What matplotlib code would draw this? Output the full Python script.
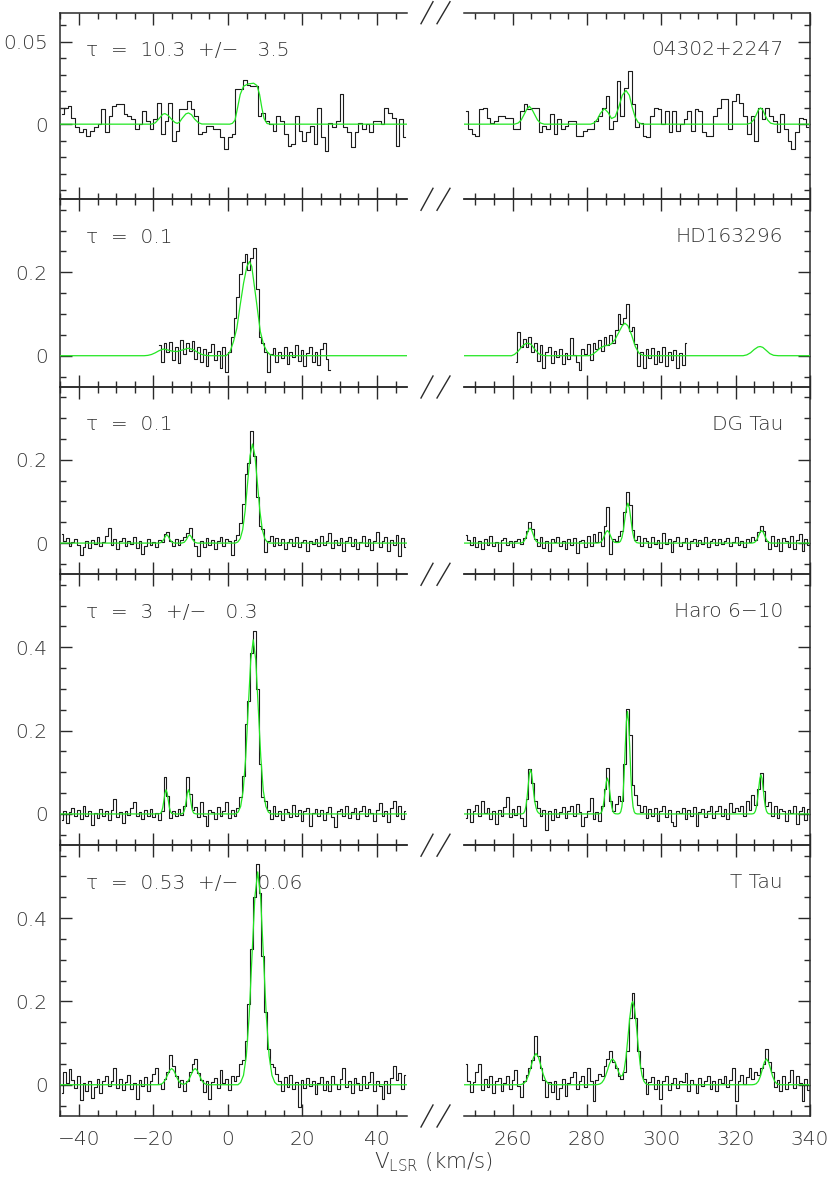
import numpy as np
import matplotlib
matplotlib.use("Agg")
import matplotlib.pyplot as plt
from matplotlib.lines import Line2D
from matplotlib.ticker import MultipleLocator, FuncFormatter

plt.rcParams["font.family"] = "DejaVu Sans"
plt.rcParams["font.weight"] = 200
plt.rcParams["font.size"] = 14.5
plt.rcParams["mathtext.fontset"] = "custom"
plt.rcParams["mathtext.rm"] = "DejaVu Sans:light"
plt.rcParams["mathtext.it"] = "DejaVu Sans:light"

## ------------------------------------------------------------------ ##
## spectra: first channel velocity (km/s), channel width, T (mK)
## ------------------------------------------------------------------ ##
iras04302_v0 = (-44.5, 247.5)
iras04302_dv = 1.0
iras04302_left_mK = [
    6, 10, 11, 4, -2, -5, -3, -7, -4, -2,
    0, 9, -5, 5, 11, 12, 12, 6, 5, 3,
    -3, 0, 8, 2, -3, 3, 13, -6, 2, 13,
    -10, -4, 9, 9, 14, 9, 5, -6, -5, -1,
    -1, -3, -3, -8, -15,
    -8, -6, 21, 21, 27, 24, 23, 23, 5, 7,
    2, 0, -4, 5, 2, -6, -13, -12, 5, -4,
    -10, -5, -1, -12, 10, -8, -16, 1, -2, 2,
    18, -2, -5, -14, -5, 1, -3, 0, -5, 2,
    2, 0, 10, 7, 4, -13, 3, -8]
iras04302_right_mK = [
    8, -3, -6, -7, 9, 10, 4, 1, 2, 5,
    5, 4, 4, -3, -3, 8, 12, 9, 10, 10,
    -5, -1, -3, 6, -6, 3, -3, -1, 2, 2,
    -7, -7, -4, -3, -3, 2, 5, 10, 17, -3,
    2, 26, 5, 22, 32, 12, -2, 1, -7, -8,
    5, 10, 9, 0, 8, -5, 8, -4, 0, 3,
    8, -4, 9, 8, -5, -7, -7, 5, 10, 15,
    15, -3, 14, 18, 13, 5, -6, 5, -10, 10,
    3, 10, 5, 2, -5, 6, -3, -10, -15, -5,
    4, 3, -2]

hd163296_v0 = (-18.375, 260.875)
hd163296_dv = 0.75
hd163296_left_mK = [
    25, -14, 30, 10, 34, -10, 20, -18, 38, 5,
    30, 12, 35, -8, 22, -16, 15, -24, 8, 28,
    -10, 12, -30, 20, -38, 10, 45, 90, 140, 195,
    225, 245, 205, 235, 258, 160, 45, 30, 10, -40,
    5, 18, -14, 10, -6, 22, -20, 8, -2, 25,
    -12, 14, -24, 6, 20, -16, 10, -22, 16, 30,
    -8, -35]
hd163296_right_mK = [
    -15, 58, 20, 40, 22, 45, 10, 30, -12, 25,
    -30, 8, 20, -18, 12, -4, 15, -20, 6, -8,
    42, 2, -14, -35, 16, 5, 28, -10, 30, 15,
    38, 12, 45, 25, 50, 30, 62, 99, 75, 90,
    123, 60, 70, 28, -25, 10, -30, 15, -6, 18,
    -20, 12, -14, 20, -24, 8, -10, 14, -30, 6,
    -22, 30]

fine_v0 = (-44.625, 247.375)
fine_dv = 0.75
dgtau_left_mK = [
    22, 5, 12, -8, 3, 10, -5, -28, -10, 6,
    -12, 8, -3, 14, -6, 2, 18, 36, -4, 10,
    -15, 5, 12, -8, 4, -2, 15, -12, 6, -26,
    -8, 9, -4, 3, -10, 8, 2, 22, 26, 6,
    -8, 10, -4, 8, 14, 24, 36, 10, -6, -30,
    4, -10, 12, -5, 8, -14, 6, 15, -6, 10,
    5, -28, 8, 20, 48, 95, 165, 192, 270, 210,
    110, 40, 35, -22, 5, 18, -8, 12, -4, 9,
    -15, 3, 11, -6, 14, -10, 2, 8, -18, 6,
    -3, 10, -7, 16, -5, 4, 24, -12, 7, -4,
    12, -20, 5, 15, -8, 10, -14, 3, 18, -6,
    9, -16, 6, 26, -10, 4, 14, -20, 8, -5,
    20, -30, 12, -10]
dgtau_right_mK = [
    20, 8, -5, 14, -10, 6, -14, 10, -4, 16,
    -6, 3, -18, 8, 12, -5, 6, -10, 4, 10,
    -3, 12, 30, 50, 35, 10, -8, 15, -12, 4,
    -20, 9, 2, 14, -8, 6, -15, 10, -4, 12,
    -24, 5, 8, -10, 16, -6, 22, 2, 26, -8,
    40, 86, -26, 10, 4, 18, 30, 75, 123, 92,
    32, 8, 18, -6, 12, 4, -10, 15, -3, 8,
    -12, 24, -2, 10, -22, 6, 14, -8, 3, 12,
    -14, 5, 10, -6, 8, -2, 15, -10, 4, 9,
    -5, 11, -3, 6, 12, -8, 2, 14, -4, 6,
    -10, 9, 3, 14, 8, 26, 42, 28, 6, -14,
    18, -6, 10, -20, 12, 4, -10, 16, -14, 8,
    22, -18, 10, -4]

haro610_left_mK = [
    -15, 8, -22, 5, 14, -6, 10, -12, 18, -4,
    6, -26, 3, -10, 12, -5, 8, -14, 10, 36,
    -8, 4, -22, 6, -3, 14, 28, -6, 5, -12,
    9, -4, 12, -8, 3, -14, 6, 88, 42, -10,
    8, -6, 12, -2, 20, 88, 48, 10, 16, -8,
    28, -4, -30, 10, 4, -12, 16, -6, 8, 28,
    -10, 10, -5, 15, 40, 90, 215, 270, 385, 440,
    300, 120, 40, 30, 10, -12, 18, -6, 8, -14,
    12, 4, -8, 22, -4, 10, -18, 6, 14, -28,
    2, 12, -6, 9, -14, 5, 16, -8, -32, 6,
    12, -4, 18, -10, 4, 14, -12, 8, 20, -6,
    12, 2, -18, 10, 26, -4, 8, -20, 14, 30,
    -6, 18, -12, 6]
haro610_right_mK = [
    -10, 12, -20, 8, 22, -6, 30, 2, 14, -12,
    6, -24, 10, -4, 16, 40, -8, 12, -2, 20,
    -10, -28, 35, 107, 75, 30, 15, -4, 10, -38,
    6, -14, 12, -8, 4, 16, -10, 8, 18, -6,
    24, 5, -30, -8, 6, 38, -12, 4, -16, 20,
    60, 110, 30, 8, 25, 42, 30, 120, 251, 190,
    70, 45, 22, 5, 18, -10, 12, -4, 14, -16,
    6, 20, -8, 10, -20, -28, 8, 2, 14, -12,
    10, -6, 16, -30, 4, 12, -8, 8, 20, -10,
    6, 18, -4, 12, -12, 26, 4, 14, 8, 20,
    -6, 30, 10, 45, 22, 60, 98, 55, 20, 28,
    -4, 18, -10, 12, 6, -16, 10, 2, 20, -24,
    8, 16, -14, 12]

ttau_left_mK = [
    -20, 30, 5, 38, 12, -8, 20, -36, 4, -15,
    10, -32, -6, 14, -20, 8, 22, -4, 10, 40,
    -8, 15, -12, 6, 24, -10, 4, -34, 12, -4,
    18, -14, 8, 26, 40, 2, -10, 14, 30, 71,
    45, 20, -6, 12, -15, 8, 30, 50, 63, 28,
    12, -18, 10, -34, 6, 16, -8, 35, 4, 14,
    -12, 20, 8, 20, 51, 59, 105, 195, 325, 450,
    530, 460, 310, 175, 85, 50, 42, 27, 10, -14,
    18, -6, 24, -10, 6, -53, 12, -8, 16, -4,
    10, -22, 4, 18, -12, 8, -16, 22, 2, -10,
    14, 40, -6, 10, -20, 16, 4, -12, 20, -8,
    6, 30, -14, 10, -2, -35, 8, -20, 16, 45,
    12, 28, -10, 24]
ttau_right_mK = [
    50, 10, -18, 6, 30, 50, -12, 14, -6, 22,
    -20, 8, 16, -14, 4, 20, -10, 12, 35, -4,
    -30, 10, 24, 40, 60, 117, 70, 40, 12, -30,
    6, -18, 10, -34, -8, 14, -26, 4, 18, 30,
    -10, 8, 22, -6, 40, 10, -38, 12, 26, 20,
    45, 62, 82, 55, 40, 20, 15, 30, 80, 160,
    221, 160, 80, 40, 15, -22, 6, 18, -10, 12,
    -34, 8, 20, -12, 4, 16, -8, 10, 6, 28,
    -14, 12, 2, -20, 16, -4, 10, 20, -10, 8,
    -16, 14, 4, 22, -6, 12, 40, -40, 10, 24,
    2, 18, 40, 14, 30, 24, 40, 50, 87, 55,
    30, -6, 12, -14, 20, -10, 6, 35, -8, 22,
    4, -40, 14, -12]

## ------------------------------------------------------------------ ##
## hyperfine fits (green), (velocity km/s, T mK)
## ------------------------------------------------------------------ ##
iras04302_fit_left = [
    (-45, 0), (-20.5, 0), (-19.5, 0.8), (-18.5, 3.3), (-17.5, 6.0), (-16.9, 6.4),
    (-16.0, 5.2), (-15.0, 2.6), (-14.2, 1.0), (-13.6, 0.5), (-13.0, 1.2),
    (-12.3, 3.5), (-11.3, 6.2), (-10.6, 6.8), (-9.8, 5.8), (-8.9, 3.0),
    (-8.0, 1.0), (-7.0, 0.1), (0.5, 0), (1.2, 0.5), (1.9, 2.4), (2.6, 10),
    (3.3, 18), (4.2, 23), (5.5, 24.4), (6.9, 24.8), (7.8, 23.4), (8.5, 18),
    (9.1, 10), (9.7, 3.4), (10.5, 0.4), (11.5, 0), (48, 0)]
iras04302_fit_right = [
    (247, 0), (260.5, 0), (261.5, 0.7), (262.3, 2.5), (263.0, 5.5), (263.8, 9.0),
    (264.5, 10.8), (265.2, 9.0), (266.0, 5.5), (266.7, 2.5), (267.5, 0.7),
    (268.5, 0), (281.0, 0), (282.0, 0.8), (282.8, 3.0), (283.6, 6.5),
    (284.7, 9.4), (285.7, 7.0), (286.6, 3.4), (287.6, 4.5), (288.5, 10),
    (289.5, 17.5), (290.5, 20.4), (291.4, 17.5), (292.2, 10), (293.0, 4),
    (293.8, 1), (294.8, 0), (323.0, 0), (324.0, 0.6), (324.8, 2.5),
    (325.5, 5.5), (326.1, 8.6), (326.7, 9.8), (327.3, 8.6), (327.9, 5.5),
    (328.6, 2.5), (329.4, 0.6), (330.5, 0), (340, 0)]

hd163296_fit_left = [
    (-45, 0), (-22.5, 0), (-21.5, 0.8), (-20.5, 3), (-19.5, 7), (-18.5, 12),
    (-17.3, 16), (-16.2, 14), (-15.0, 11), (-13.7, 10), (-12.3, 13.5),
    (-10.6, 18), (-9.2, 14), (-8.0, 7.5), (-7.0, 3), (-6.0, 0.8), (-5.0, 0),
    (-0.5, 0), (0.5, 8), (1.5, 34), (2.4, 66), (3.3, 122), (4.2, 174),
    (5.1, 214), (5.8, 226), (6.4, 214), (7.3, 154), (8.0, 106), (8.7, 58),
    (9.6, 26), (10.5, 10), (11.4, 2), (12.5, 0), (48, 0)]
hd163296_fit_right = [
    (247, 0), (259.7, 0), (260.5, 3), (261.5, 11), (262.5, 22), (263.5, 29),
    (264.2, 30), (265.0, 27), (266.0, 15), (267.0, 5), (268.0, 1), (269.0, 0),
    (280.5, 0), (281.5, 3), (282.5, 10), (283.5, 18), (284.5, 23), (285.5, 25),
    (286.5, 28), (287.5, 38), (288.5, 55), (289.5, 72), (290.2, 78),
    (291.0, 72), (292.0, 50), (293.0, 22), (294.0, 6), (295.0, 1), (296.0, 0),
    (322.0, 0), (323.0, 2), (324.0, 7), (325.0, 15), (326.0, 21), (326.6, 22),
    (327.3, 20), (328.2, 13), (329.2, 5), (330.2, 1), (331.5, 0), (340, 0)]

dgtau_fit_left = [
    (-45, 0), (-18.5, 0), (-17.8, 2), (-17.2, 9), (-16.8, 16), (-16.4, 20),
    (-16.0, 16), (-15.6, 9), (-15.0, 2), (-14.3, 0), (-12.4, 0), (-11.7, 2),
    (-11.1, 9), (-10.7, 16), (-10.3, 20), (-9.9, 16), (-9.5, 9), (-8.9, 2),
    (-8.2, 0), (2.0, 0), (2.64, 2.6), (3.3, 10.5), (3.96, 32), (4.62, 77),
    (5.28, 144), (5.94, 210), (6.6, 238), (7.26, 210), (7.92, 144),
    (8.58, 77), (9.24, 32), (9.9, 10.5), (10.56, 2.6), (11.2, 0), (48, 0)]
dgtau_fit_right = [
    (247, 0), (262.0, 0), (262.3, 0.4), (262.7, 1.6), (263.1, 4.9), (263.5, 11.7),
    (263.9, 21.9), (264.3, 31.8), (264.7, 36), (265.1, 31.8), (265.5, 21.9),
    (265.9, 11.7), (266.3, 4.9), (266.7, 1.6), (267.1, 0.4), (267.5, 0),
    (282.7, 0), (283.1, 0.3), (283.5, 1.3), (283.9, 4), (284.3, 9.8),
    (284.7, 18.2), (285.1, 26.5), (285.5, 30), (285.9, 26.5), (286.3, 18.2),
    (286.7, 9.8), (287.1, 4), (287.5, 1.6), (288.0, 1.2), (288.6, 1.5),
    (289.0, 4.2), (289.4, 13), (289.8, 31), (290.2, 58), (290.6, 85),
    (291.0, 96), (291.4, 85), (291.8, 58), (292.2, 31), (292.6, 13),
    (293.0, 4.2), (293.4, 1), (294.0, 0), (324.2, 0), (324.6, 0.3),
    (325.0, 1.3), (325.4, 4), (325.8, 9.8), (326.2, 18.2), (326.6, 26.5),
    (327.0, 30), (327.4, 26.5), (327.8, 18.2), (328.2, 9.8), (328.6, 4),
    (329.0, 1.3), (329.4, 0.3), (329.8, 0), (340, 0)]

haro610_fit_left = [
    (-45, 0), (-18.6, 0), (-18.1, 1.4), (-17.8, 5.4), (-17.5, 15), (-17.2, 32),
    (-16.9, 50), (-16.6, 58), (-16.3, 50), (-16.0, 32), (-15.7, 15),
    (-15.4, 5.4), (-15.1, 1.4), (-14.5, 0), (-12.6, 0), (-12.1, 1.4),
    (-11.8, 5.4), (-11.5, 15), (-11.2, 32), (-10.9, 50), (-10.6, 58),
    (-10.3, 50), (-10.0, 32), (-9.7, 15), (-9.4, 5.4), (-9.1, 1.4), (-8.5, 0),
    (2.0, 0), (2.75, 4.6), (3.43, 18.4), (4.1, 56), (4.78, 136), (5.45, 254),
    (6.13, 369), (6.8, 418), (7.48, 369), (8.15, 254), (8.83, 136), (9.5, 56),
    (10.18, 18.4), (10.85, 4.6), (11.6, 0), (48, 0)]
haro610_fit_right = [
    (247, 0), (262.3, 0), (262.7, 0.6), (263.0, 2.3), (263.3, 7.4), (263.6, 19.3),
    (263.9, 40.6), (264.2, 69.2), (264.5, 95.3), (264.8, 106), (265.1, 98),
    (265.4, 75), (265.7, 48), (266.0, 28), (266.3, 15), (266.6, 7),
    (266.9, 3), (267.3, 0.5), (267.8, 0), (283.0, 0), (283.4, 0.5),
    (283.7, 1.9), (284.0, 6), (284.3, 15.7), (284.6, 33), (284.9, 56),
    (285.2, 77), (285.5, 86), (285.8, 77), (286.1, 56), (286.4, 33),
    (286.7, 15.7), (287.0, 6), (287.3, 1.9), (287.6, 0.5), (288.2, 0),
    (288.5, 0.3), (288.8, 1.3), (289.1, 5.4), (289.4, 17.2), (289.7, 44.8),
    (290.0, 94), (290.3, 161), (290.6, 221), (290.9, 246), (291.2, 221),
    (291.5, 161), (291.8, 94), (292.1, 44.8), (292.4, 17.2), (292.7, 5.4),
    (293.0, 1.3), (293.5, 0), (324.3, 0), (324.7, 0.5), (325.0, 2.1),
    (325.3, 6.6), (325.6, 17.1), (325.9, 36), (326.2, 61.4), (326.5, 84.5),
    (326.8, 94), (327.1, 84.5), (327.4, 61.4), (327.7, 36), (328.0, 17.1),
    (328.3, 6.6), (328.6, 2.1), (328.9, 0.5), (329.4, 0), (340, 0)]

ttau_fit_left = [
    (-45, 0), (-19.0, 0), (-18.4, 0.4), (-17.85, 1.7), (-17.3, 5.3), (-16.75, 12.7),
    (-16.2, 23.7), (-15.65, 34.4), (-15.1, 39), (-14.55, 34.4), (-14.0, 23.7),
    (-13.45, 12.7), (-12.9, 5.3), (-12.35, 1.9), (-11.95, 1.3), (-11.55, 1.9),
    (-11.0, 5.3), (-10.45, 12.7), (-9.9, 23.7), (-9.35, 34.4), (-8.8, 39),
    (-8.25, 34.4), (-7.7, 23.7), (-7.15, 12.7), (-6.6, 5.3), (-6.05, 1.7),
    (-5.5, 0.4), (-4.9, 0), (2.7, 0), (3.41, 5.6), (4.18, 22.5), (4.94, 69),
    (5.71, 166), (6.47, 310), (7.24, 451), (8.0, 511), (8.77, 451),
    (9.53, 310), (10.3, 166), (11.06, 69), (11.83, 22.5), (12.59, 5.6),
    (13.3, 0), (48, 0)]
ttau_fit_right = [
    (247, 0), (261.7, 0), (262.4, 0.8), (263.05, 3.3), (263.7, 10.1), (264.35, 24.4),
    (265.0, 45.5), (265.65, 66.2), (266.3, 75), (266.95, 66.2), (267.6, 45.5),
    (268.25, 24.4), (268.9, 10.1), (269.55, 3.3), (270.2, 0.8), (270.9, 0),
    (282.4, 0), (283.0, 0.7), (283.5, 2.0), (284.0, 5.1), (284.5, 11.3),
    (285.0, 21.3), (285.5, 34.7), (286.0, 48.8), (286.5, 59.2), (286.9, 62),
    (287.5, 55.8), (288.0, 43.6), (288.5, 30.4), (289.0, 21.4), (289.5, 21.6),
    (290.0, 35.5), (290.5, 66.3), (291.0, 111.6), (291.5, 160), (292.0, 194),
    (292.3, 200), (292.8, 183), (293.3, 141), (293.8, 92), (294.3, 50),
    (294.8, 23), (295.3, 8.8), (295.8, 2.8), (296.3, 0.8), (296.8, 0),
    (324.4, 0), (325.0, 0.7), (325.55, 2.7), (326.1, 8.4), (326.65, 20.2),
    (327.2, 37.6), (327.75, 54.7), (328.3, 62), (328.85, 54.7), (329.4, 37.6),
    (329.95, 20.2), (330.5, 8.4), (331.05, 2.7), (331.6, 0.7), (332.2, 0),
    (340, 0)]

names = ["04302+2247", "HD163296", "DG Tau", "Haro 6\u221210", "T Tau"]
tau_labels = [
    "\u03c4  =  10.3  +/\u2212   3.5",
    "\u03c4  =  0.1",
    "\u03c4  =  0.1",
    "\u03c4  =  3  +/\u2212   0.3",
    "\u03c4  =  0.53  +/\u2212   0.06",
]

panels = [
    dict(left=(iras04302_v0[0], iras04302_dv, iras04302_left_mK),
         right=(iras04302_v0[1], iras04302_dv, iras04302_right_mK),
         fit_left=iras04302_fit_left, fit_right=iras04302_fit_right,
         ylim=(-0.0455, 0.0675), major=0.05, minor=0.01),
    dict(left=(hd163296_v0[0], hd163296_dv, hd163296_left_mK),
         right=(hd163296_v0[1], hd163296_dv, hd163296_right_mK),
         fit_left=hd163296_fit_left, fit_right=hd163296_fit_right,
         ylim=(-0.075, 0.375), major=0.2, minor=0.05),
    dict(left=(fine_v0[0], fine_dv, dgtau_left_mK),
         right=(fine_v0[1], fine_dv, dgtau_right_mK),
         fit_left=dgtau_fit_left, fit_right=dgtau_fit_right,
         ylim=(-0.075, 0.375), major=0.2, minor=0.05),
    dict(left=(fine_v0[0], fine_dv, haro610_left_mK),
         right=(fine_v0[1], fine_dv, haro610_right_mK),
         fit_left=haro610_fit_left, fit_right=haro610_fit_right,
         ylim=(-0.075, 0.575), major=0.2, minor=0.05),
    dict(left=(fine_v0[0], fine_dv, ttau_left_mK),
         right=(fine_v0[1], fine_dv, ttau_right_mK),
         fit_left=ttau_fit_left, fit_right=ttau_fit_right,
         ylim=(-0.075, 0.575), major=0.2, minor=0.05),
]

## ------------------------------------------------------------------ ##
## layout (pixels of the 830 x 1180 figure)
## ------------------------------------------------------------------ ##
W, H = 830.0, 1180.0
edges = [12.7, 199.3, 387.0, 574.3, 845.2, 1116.0]
x_left = (60.3, 406.7)
x_right = (464.3, 810.0)
vlim = {"left": (-45, 48), "right": (247, 340)}

ink = "#2a2a2a"
txt = "#333333"
green = "#22e622"
fs = 14.5


def yfmt(y, pos):
    return "%g" % round(y, 6)


def dress(ax, side, ylim, major, minor, last):
    ax.set_xlim(*vlim[side])
    ax.set_ylim(*ylim)
    ax.xaxis.set_major_locator(MultipleLocator(20))
    ax.xaxis.set_minor_locator(MultipleLocator(5))
    ax.yaxis.set_major_locator(MultipleLocator(major))
    ax.yaxis.set_minor_locator(MultipleLocator(minor))
    ax.yaxis.set_major_formatter(FuncFormatter(yfmt))
    ax.tick_params(which="both", direction="in", top=True, bottom=True,
                   color=ink, width=1.0, labelcolor=txt, labelsize=fs)
    ax.tick_params(which="major", length=8.5)
    ax.tick_params(which="minor", length=4.5)
    ax.tick_params(axis="x", pad=10, labelbottom=last)
    ax.tick_params(axis="y", pad=9)
    for s in ax.spines.values():
        s.set_color(ink)
        s.set_linewidth(1.1)
    if side == "left":
        ax.spines["right"].set_visible(False)
        ax.tick_params(axis="y", which="both", left=True, right=False)
    else:
        ax.spines["left"].set_visible(False)
        ax.tick_params(axis="y", which="both", left=False, right=True,
                       labelleft=False)
    ax.patch.set_visible(False)


fig = plt.figure(figsize=(W / 100, H / 100), dpi=100)

for i, p in enumerate(panels):
    top, bot = edges[i], edges[i + 1]
    hpx = bot - top
    for side, (x0, x1) in (("left", x_left), ("right", x_right)):
        ax = fig.add_axes([x0 / W, 1 - bot / H, (x1 - x0) / W, hpx / H])
        v0, dv, vals = p[side]
        t = np.array(vals, dtype=float) / 1000.0
        v = v0 + dv * np.arange(len(t))
        ax.step(v, t, where="mid", color="#1c1c1c", lw=0.8, zorder=3)
        fv, ft = zip(*p["fit_" + side])
        ax.plot(fv, np.array(ft) / 1000.0, color=green, lw=0.9, zorder=4)
        dress(ax, side, p["ylim"], p["major"], p["minor"], i == len(panels) - 1)
        if side == "left":
            ax.text((86 - x0) / (x1 - x0), 1 - 38 / hpx, tau_labels[i],
                    transform=ax.transAxes, ha="left", va="center",
                    color=txt, fontsize=fs, zorder=1)
        else:
            ax.text((783 - x0) / (x1 - x0), 1 - 37 / hpx, names[i],
                    transform=ax.transAxes, ha="right", va="center",
                    color=txt, fontsize=fs, zorder=1)

# "//" axis-break marks on every horizontal frame line
for y in edges:
    for xa, xb in ((421, 433), (437, 450)):
        fig.add_artist(Line2D([xa / W, xb / W], [1 - (y + 11) / H, 1 - (y - 11) / H],
                              color=ink, lw=1.0))

fig.text(434 / W, 1 - 1162 / H, r"V$_{\rm LSR}$ (km/s)", ha="center",
         va="center", color=txt, fontsize=15.5)

fig.savefig("out.png", dpi=100)
